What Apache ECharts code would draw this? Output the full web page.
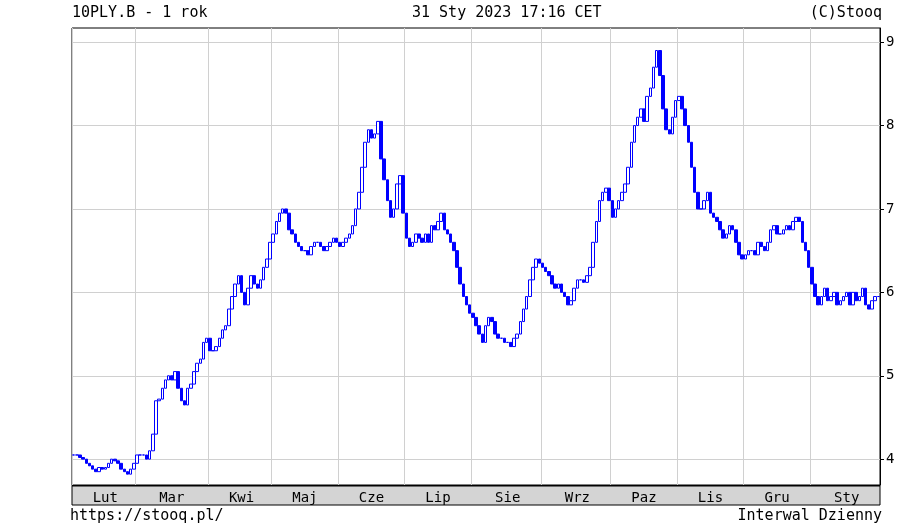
<!DOCTYPE html>
<html><head><meta charset="utf-8">
<script src="https://cdn.jsdelivr.net/npm/echarts@6/dist/echarts.min.js"></script>
<style>html,body{margin:0;background:#fff}#c{width:904px;height:529px}</style>
</head><body><div id="c"></div>
<script>
const months = ['Lut','Mar','Kwi','Maj','Cze','Lip','Sie','Wrz','Paz','Lis','Gru','Sty'];
const closeLut = [4.05,4.05,4.02,4.0,3.95,3.92,3.88,3.85,3.9,3.88,3.9,3.95,4.0,3.98,3.95,3.88,3.85,3.82,3.88,3.95];
const closeMar = [4.05,4.05,4.05,4.0,4.1,4.3,4.7,4.72,4.85,4.95,5.0,4.95,5.05,4.85,4.7,4.65,4.85,4.9,5.05,5.15,5.2,5.4,5.45];
const closeKwi = [5.3,5.3,5.35,5.45,5.55,5.6,5.8,5.95,6.1,6.2,6.0,5.85,6.05,6.2,6.1,6.05,6.15,6.3,6.4,6.6];
const closeMaj = [6.7,6.85,6.95,7.0,6.95,6.75,6.7,6.6,6.55,6.5,6.5,6.45,6.55,6.6,6.6,6.55,6.5,6.55,6.6,6.65,6.6];
const closeCze = [6.55,6.6,6.65,6.7,6.8,7.0,7.2,7.5,7.8,7.95,7.85,7.9,8.05,7.6,7.35,7.1,6.9,7.0,7.3,7.4,6.95];
const closeLip = [6.65,6.55,6.6,6.7,6.65,6.6,6.7,6.6,6.8,6.75,6.85,6.95,6.75,6.7,6.6,6.5,6.3,6.1,5.95,5.85,5.75];
const closeSie = [5.7,5.6,5.5,5.4,5.6,5.7,5.65,5.5,5.45,5.45,5.4,5.4,5.35,5.45,5.5,5.65,5.8,5.95,6.15,6.3,6.4,6.35];
const closeWrz = [6.3,6.25,6.2,6.1,6.05,6.1,6.0,5.95,5.85,5.9,6.05,6.15,6.15,6.12,6.2,6.3,6.6,6.85,7.1,7.2,7.25,7.1];
const closePaz = [6.9,7.0,7.1,7.2,7.3,7.5,7.8,8.0,8.1,8.2,8.05,8.35,8.45,8.7,8.9,8.6,8.2,7.95,7.9,8.1,8.3];
const closeLis = [8.35,8.2,8.0,7.8,7.5,7.2,7.0,7.0,7.1,7.2,6.95,6.9,6.85,6.75,6.65,6.7,6.8,6.75,6.6,6.45,6.4];
const closeGru = [6.45,6.5,6.5,6.45,6.6,6.55,6.5,6.6,6.75,6.8,6.7,6.7,6.75,6.8,6.75,6.85,6.9,6.85,6.6,6.5,6.3];
const closeSty = [6.1,5.95,5.85,5.95,6.05,5.9,5.95,6.0,5.85,5.9,5.95,6.0,5.85,6.0,5.9,5.95,6.05,5.85,5.8,5.9,5.95,5.95];
const monthCloses = [closeLut,closeMar,closeKwi,closeMaj,closeCze,closeLip,closeSie,closeWrz,closePaz,closeLis,closeGru,closeSty];
const yTicks = [4,5,6,7,8,9];

const cats = [], candles = [], monthStart = new Set(), monthMid = {};
let prev = closeLut[0];
monthCloses.forEach((arr, m) => {
  monthStart.add(cats.length);
  monthMid[cats.length + Math.floor(arr.length / 2)] = months[m];
  arr.forEach((c, i) => {
    cats.push(months[m] + '-' + i);
    candles.push([prev, c, Math.min(prev, c), Math.max(prev, c)]);
    prev = c;
  });
});

const F = 'DejaVu Sans Mono';
const chart = echarts.init(document.getElementById('c'));
chart.setOption({
  animation: false,
  textStyle: { fontFamily: F },
  grid: { left: 72, right: 24, top: 28, bottom: 44, show: true, borderColor: '#000', borderWidth: 1 },
  graphic: [
    { type: 'rect', shape: { x: 72, y: 486, width: 808, height: 19 }, style: { fill: '#d4d4d4', stroke: '#000' }, z: 0 },
    { type: 'text', left: 72, top: 6, style: { text: '10PLY.B - 1 rok', font: '15px ' + F, fill: '#000' } },
    { type: 'text', left: 412, top: 6, style: { text: '31 Sty 2023 17:16 CET', font: '15px ' + F, fill: '#000' } },
    { type: 'text', right: 22, top: 6, style: { text: '(C)Stooq', font: '15px ' + F, fill: '#000' } },
    { type: 'text', left: 70, top: 509, style: { text: 'https://stooq.pl/', font: '15px ' + F, fill: '#000' } },
    { type: 'text', right: 22, top: 509, style: { text: 'Interwal Dzienny', font: '15px ' + F, fill: '#000' } }
  ],
  xAxis: {
    type: 'category', data: cats, boundaryGap: true,
    axisLine: { lineStyle: { color: '#000' } },
    axisTick: { show: false },
    axisLabel: {
      interval: i => monthMid[i] !== undefined,
      formatter: (v, i) => monthMid[i] || '',
      color: '#000', fontSize: 14, fontFamily: F, margin: 6
    },
    splitLine: { show: true, interval: i => monthStart.has(i), lineStyle: { color: '#d0d0d0' } }
  },
  yAxis: {
    type: 'value', position: 'right', min: 3.69, max: 9.17,
    axisLine: { show: true, lineStyle: { color: '#000' } },
    axisTick: { show: true, customValues: yTicks, length: 4, lineStyle: { color: '#000' } },
    axisLabel: { customValues: yTicks, color: '#000', fontSize: 14, fontFamily: F, margin: 6 },
    splitLine: { show: true, lineStyle: { color: '#d0d0d0' } }
  },
  series: [{
    type: 'candlestick', data: candles, barWidth: 3,
    itemStyle: { color: '#ffffff', color0: '#0000ff', borderColor: '#0000ff', borderColor0: '#0000ff', borderWidth: 1 }
  }]
});
</script></body></html>
